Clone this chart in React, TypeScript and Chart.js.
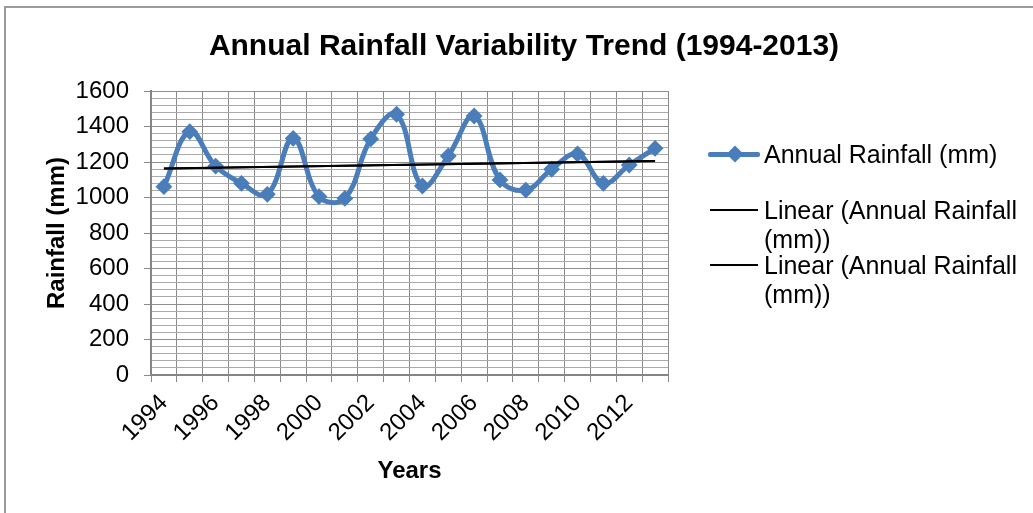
import React, { useEffect, useRef } from "react";
import { Chart, registerables } from "chart.js";

Chart.register(...registerables);

const years = [
  "1994", "1995", "1996", "1997", "1998", "1999", "2000", "2001", "2002", "2003",
  "2004", "2005", "2006", "2007", "2008", "2009", "2010", "2011", "2012", "2013",
];
const rainfall = [
  1061, 1371, 1177, 1080, 1018, 1333, 1005, 995, 1330, 1469,
  1065, 1234, 1459, 1099, 1042, 1159, 1245, 1080, 1183, 1277,
];
const trendStart = 1164;
const trendEnd = 1206;
const yMin = 0;
const yMax = 1600;
const yMajorStep = 200;
const yMinorStep = 40;

const titleText = "Annual Rainfall Variability Trend (1994-2013)";
const xTitle = "Years";
const yTitle = "Rainfall (mm)";
const seriesLabel = "Annual Rainfall (mm)";
const trendLabel = "Linear (Annual Rainfall (mm))";

const BLUE = "#4a7ebb";
const FONT = '"Liberation Sans", Arial, sans-serif';

export default function App() {
  const ref = useRef<HTMLCanvasElement | null>(null);

  useEffect(() => {
    if (!ref.current) return;
    const last = years.length - 1;
    const trend = years.map((_, i) => (i === 0 ? trendStart : i === last ? trendEnd : null));
    const chart = new Chart(ref.current, {
      type: "line",
      data: {
        labels: years,
        datasets: [
          {
            label: seriesLabel,
            data: rainfall,
            borderColor: BLUE,
            backgroundColor: BLUE,
            borderWidth: 5,
            tension: 0.4,
            pointStyle: "rectRot",
            pointRadius: 7,
            pointBorderWidth: 2,
            pointBackgroundColor: BLUE,
            pointBorderColor: BLUE,
            order: 2,
          },
          {
            label: trendLabel,
            data: trend,
            borderColor: "#000000",
            borderWidth: 2,
            pointRadius: 0,
            spanGaps: true,
            tension: 0,
            order: 1,
          },
          {
            label: trendLabel,
            data: trend,
            borderColor: "#000000",
            borderWidth: 2,
            pointRadius: 0,
            spanGaps: true,
            tension: 0,
            order: 1,
          },
        ],
      },
      options: {
        animation: false,
        responsive: false,
        devicePixelRatio: 1,
        layout: { padding: { left: 0, top: 91, right: 365, bottom: 0 } },
        plugins: {
          legend: { display: false },
          title: { display: false },
          tooltip: { enabled: false },
        },
        scales: {
          x: {
            type: "category",
            offset: true,
            grid: {
              offset: true,
              color: "#8a8a8a",
              lineWidth: 1,
              tickLength: 7,
              tickColor: "#8a8a8a",
            },
            border: { color: "#858585", width: 2 },
            ticks: {
              autoSkip: false,
              minRotation: 45,
              maxRotation: 45,
              padding: 7,
              color: "#000000",
              font: { family: FONT, size: 24 },
              callback: (_v: any, i: number) => (i % 2 === 0 ? years[i] : ""),
            },
            title: {
              display: true,
              text: xTitle,
              color: "#000000",
              font: { family: FONT, size: 24, weight: "bold" },
              padding: { top: 0, bottom: 27 },
            },
            afterFit: (s: any) => {
              s.height = 138;
            },
          },
          y: {
            min: yMin,
            max: yMax,
            ticks: {
              stepSize: yMinorStep,
              autoSkip: false,
              padding: 15,
              color: "#000000",
              font: { family: FONT, size: 24 },
              callback: (v: any) => (Number(v) % yMajorStep === 0 ? String(v) : ""),
            },
            grid: {
              color: (ctx: any) =>
                ctx.tick && ctx.tick.value % yMajorStep === 0 ? "#8e8e8e" : "#aaaaaa",
              tickColor: (ctx: any) =>
                ctx.tick && ctx.tick.value % yMajorStep === 0 ? "#8a8a8a" : "rgba(0,0,0,0)",
              tickLength: 7,
              lineWidth: 1,
            },
            border: { color: "#858585", width: 2 },
            title: {
              display: true,
              text: yTitle,
              color: "#000000",
              font: { family: FONT, size: 24, weight: "bold" },
              padding: { top: 43, bottom: 0 },
            },
            afterFit: (s: any) => {
              s.width = 151;
            },
          },
        },
      },
    } as any);
    return () => chart.destroy();
  }, []);

  const legendText: React.CSSProperties = {
    position: "absolute",
    left: 764,
    fontFamily: FONT,
    fontSize: 25,
    lineHeight: "29px",
    color: "#000",
    whiteSpace: "nowrap",
  };

  return (
    <div
      style={{
        position: "absolute",
        left: 0,
        top: 0,
        width: 1033,
        height: 513,
        overflow: "hidden",
        background: "#ffffff",
      }}
    >
      <div
        style={{
          position: "absolute",
          left: 4,
          top: 6,
          width: 1200,
          height: 700,
          borderLeft: "2px solid #9a9a9a",
          borderTop: "2px solid #9a9a9a",
        }}
      />
      <canvas
        ref={ref}
        width={1033}
        height={513}
        style={{ position: "absolute", left: 0, top: 0, width: 1033, height: 513 }}
      />
      <div
        style={{
          position: "absolute",
          left: 524,
          top: 28,
          transform: "translateX(-50%)",
          fontFamily: FONT,
          fontWeight: "bold",
          fontSize: 30,
          lineHeight: "34px",
          whiteSpace: "nowrap",
          color: "#000",
        }}
      >
        {titleText}
      </div>
      {/* legend */}
      <div
        style={{
          position: "absolute",
          left: 708,
          top: 151.5,
          width: 52,
          height: 5,
          background: BLUE,
          borderRadius: 2,
        }}
      />
      <div
        style={{
          position: "absolute",
          left: 729,
          top: 148,
          width: 12,
          height: 12,
          background: BLUE,
          transform: "rotate(45deg)",
        }}
      />
      <div style={{ ...legendText, top: 139.5 }}>{seriesLabel}</div>
      <div
        style={{ position: "absolute", left: 710, top: 209, width: 48, height: 2, background: "#000" }}
      />
      <div style={{ ...legendText, top: 195.5 }}>
        Linear (Annual Rainfall
        <br />
        (mm))
      </div>
      <div
        style={{ position: "absolute", left: 710, top: 264, width: 48, height: 2, background: "#000" }}
      />
      <div style={{ ...legendText, top: 250.5 }}>
        Linear (Annual Rainfall
        <br />
        (mm))
      </div>
    </div>
  );
}
